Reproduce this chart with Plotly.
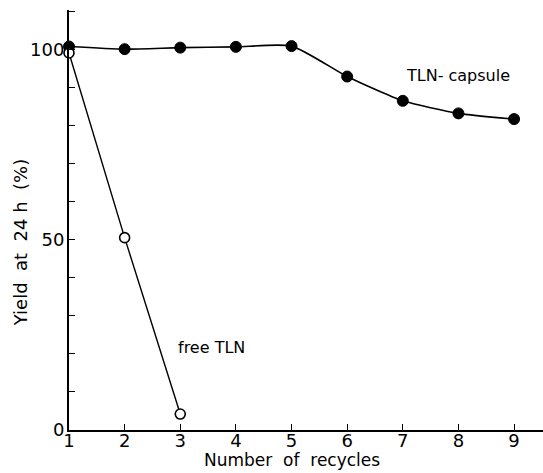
import plotly.graph_objects as go

recycles_capsule = [1, 2, 3, 4, 5, 6, 7, 8, 9]
yield_capsule = [100.9, 100.2, 100.6, 100.8, 101.0, 93.0, 86.6, 83.3, 81.8]
recycles_free = [1, 2, 3]
yield_free = [99.2, 50.6, 4.2]
x_ticks = [1, 2, 3, 4, 5, 6, 7, 8, 9]
y_ticks = [0, 50, 100]

FONT = "DejaVu Sans"

fig = go.Figure()
fig.add_trace(go.Scatter(
    x=recycles_capsule, y=yield_capsule, mode="lines+markers",
    line=dict(color="black", width=1.6, shape="spline", smoothing=0.6),
    marker=dict(color="black", size=11, line=dict(color="black", width=1)),
    cliponaxis=False, showlegend=False))
fig.add_trace(go.Scatter(
    x=recycles_free, y=yield_free, mode="lines+markers",
    line=dict(color="black", width=1.4, shape="spline", smoothing=0.3),
    marker=dict(color="white", size=10, line=dict(color="black", width=1.6)),
    cliponaxis=False, showlegend=False))

fig.add_annotation(x=8.0, y=93.4, text="TLN- capsule", showarrow=False,
                   font=dict(family=FONT, size=16, color="black"))
fig.add_annotation(x=3.57, y=21.6, text="free TLN", showarrow=False,
                   font=dict(family=FONT, size=16, color="black"))

# axis titles
fig.add_annotation(xref="paper", yref="paper", x=0.47, y=-0.072,
                   text="Number&nbsp; of&nbsp; recycles", showarrow=False,
                   xanchor="center", yanchor="middle",
                   font=dict(family=FONT, size=17, color="black"))
fig.add_annotation(xref="paper", yref="paper", x=-0.103, y=0.445,
                   text="Yield&nbsp; at&nbsp; 24&nbsp;h&nbsp; (%)", showarrow=False,
                   textangle=-90, xanchor="center", yanchor="middle",
                   font=dict(family=FONT, size=18, color="black"))

fig.update_layout(
    width=543, height=473,
    margin=dict(l=69, r=0, t=10, b=43),
    paper_bgcolor="white", plot_bgcolor="white",
    font=dict(family=FONT, size=17, color="black"),
    xaxis=dict(range=[1, 9.52], tickvals=x_ticks, ticks="inside", ticklen=6,
               tickcolor="black", showline=True, linecolor="black", linewidth=2,
               showgrid=False, zeroline=False, ticklabelstandoff=-7,
               tickfont=dict(family=FONT, size=18)),
    yaxis=dict(range=[0, 110.5], tickvals=y_ticks, ticks="inside", ticklen=6,
               tickcolor="black", showline=True, linecolor="black", linewidth=2,
               showgrid=False, zeroline=False, ticklabelstandoff=-1,
               tickfont=dict(family=FONT, size=18),
               minor=dict(dtick=10, ticks="inside", ticklen=6, tickcolor="black")),
)

fig.write_html("out.html")
